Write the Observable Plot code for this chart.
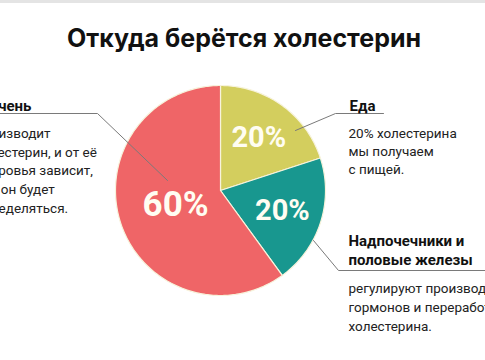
<!DOCTYPE html>
<html><head><meta charset="utf-8">
<script src="https://cdn.jsdelivr.net/npm/d3@7"></script>
<script src="https://cdn.jsdelivr.net/npm/@observablehq/plot@0.6"></script>
<style>body{margin:0;background:#fff;overflow:hidden}</style>
</head><body><div id="chart"></div>
<script>
// ---- data ----
const title = "Откуда берётся холестерин";
const sources = ["Еда", "Надпочечники и половые железы", "Печень"];
const shares = [20, 20, 60];
const sliceLabels = ["20%", "20%", "60%"];
const sliceColors = ["#d3ce5e", "#18978f", "#ef6567"];
const headings = [["Еда"], ["Надпочечники и", "половые железы"], ["Печень"]];
const notes = [
  ["20% холестерина", "мы получаем", "с пищей."],
  ["регулируют производство", "гормонов и переработку", "холестерина."],
  ["производит", "холестерин, и от её", "здоровья зависит,", "как он будет", "определяться."]
];

// ---- layout ----
const W = 485, H = 360;
const cx = 220, cy = 190, R = 105;
const rows = sources.map((s, i) => ({i, source: s, share: shares[i], label: sliceLabels[i], color: sliceColors[i]}));
const arcs = d3.pie().sort(null).value(d => d.share)(rows);

const polyPts = [];
arcs.forEach(a => {
  const n = Math.max(2, Math.ceil((a.endAngle - a.startAngle) / (Math.PI / 180)));
  polyPts.push({k: a.data.i, x: cx, y: cy, color: a.data.color});
  for (let j = 0; j <= n; j++) {
    const t = a.startAngle + (a.endAngle - a.startAngle) * j / n;
    polyPts.push({k: a.data.i, x: cx + R * Math.sin(t), y: cy - R * Math.cos(t), color: a.data.color});
  }
});

const labelPts = arcs.map(a => {
  const m = (a.startAngle + a.endAngle) / 2;
  const big = a.data.share > 40;
  const rr = R * (big ? 0.45 : 0.62);
  return {x: cx + rr * Math.sin(m), y: cy - rr * Math.cos(m), text: a.data.label, size: big ? 35 : 29};
});

// annotation layout (pixel positions of blocks)
const blocks = [
  {hx: 349, hy: 106, bx: 348, by: 133, gap: 18, leader: [[295,130],[335,113],[383,113]]},
  {hx: 348, hy: 241, bx: 348, by: 288, gap: 19, leader: [[313,240],[338,270],[485,270]]},
  {hx: -21, hy: 106, bx: -25, by: 133, gap: 18.7, leader: [[167,180],[97,113],[-5,113]]}
];
const headRows = [], noteRows = [], leaderPts = [];
blocks.forEach((b, i) => {
  headings[i].forEach((t, j) => headRows.push({x: b.hx, y: b.hy + j * 19, text: t}));
  notes[i].forEach((t, j) => noteRows.push({x: b.bx, y: b.by + j * b.gap, text: t}));
  b.leader.forEach(p => leaderPts.push({k: i, x: p[0], y: p[1]}));
});

const chart = Plot.plot({
  width: W, height: H, margin: 0,
  x: {domain: [0, W], range: [0, W], axis: null},
  y: {domain: [0, H], range: [0, H], axis: null},
  color: {type: "identity"},
  style: {background: "#fff"},
  marks: [
    Plot.ruleY([1], {stroke: "#e4e4e4", strokeWidth: 3}),
    Plot.line(polyPts, {x: "x", y: "y", z: "k", fill: "color", stroke: "#f7f3dc", strokeWidth: 1.2, curve: "linear-closed"}),
    Plot.line(leaderPts, {x: "x", y: "y", z: "k", stroke: "#7a7a7a", strokeWidth: 1}),
    Plot.text(labelPts, {x: "x", y: "y", text: "text", fill: "#fffdf2", fontSize: d => d.size, fontWeight: 700, fontFamily: "Roboto", textAnchor: "middle", lineAnchor: "middle"}),
    Plot.text(headRows, {x: "x", y: "y", text: "text", fill: "#111", fontSize: 15, fontWeight: 700, fontFamily: "Roboto", textAnchor: "start", lineAnchor: "middle"}),
    Plot.text(noteRows, {x: "x", y: "y", text: "text", fill: "#222", fontSize: 13.5, fontFamily: "Roboto", textAnchor: "start", lineAnchor: "middle"}),
    Plot.text([title], {frameAnchor: "top", dx: 1, dy: 29, text: d => d, fill: "#111", fontSize: 25, fontWeight: 700, fontFamily: "Inter", lineAnchor: "top"})
  ]
});
document.getElementById("chart").append(chart);
</script>
</body></html>
